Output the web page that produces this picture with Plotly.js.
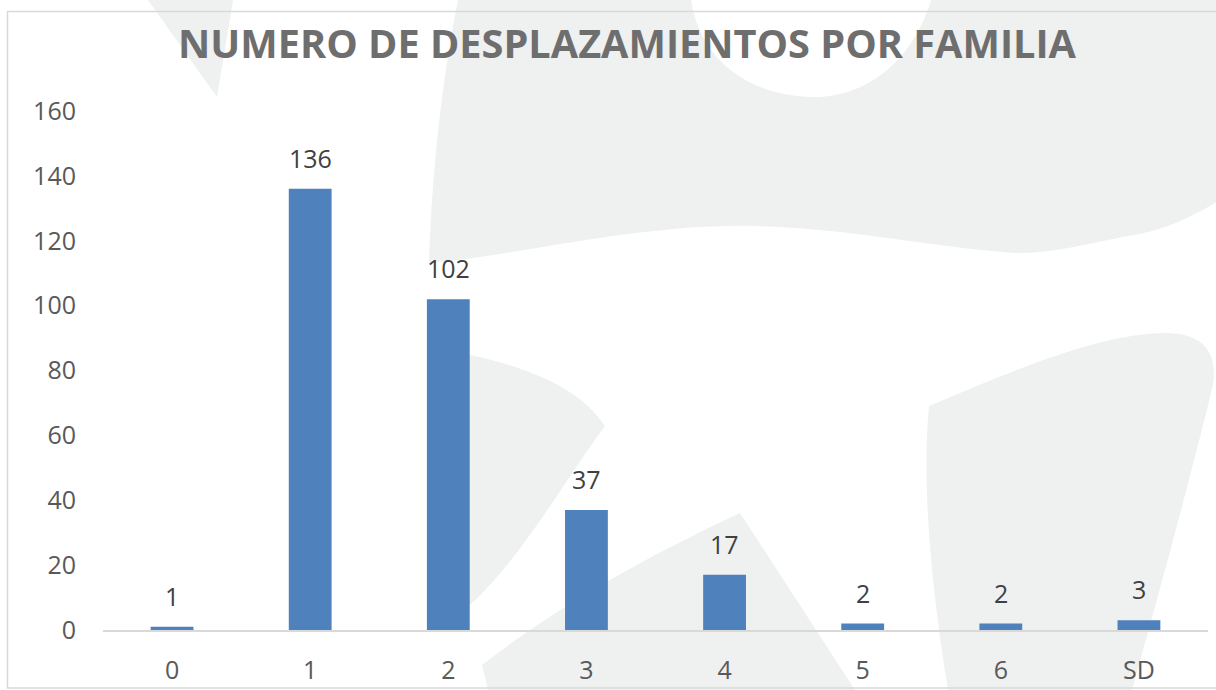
<!DOCTYPE html>
<html>
<head>
<meta charset="utf-8">
<script src="https://cdn.plot.ly/plotly-3.0.1.min.js"></script>
<style>
  html, body { margin: 0; padding: 0; background: #ffffff; }
  #chart { width: 1216px; height: 690px; }
</style>
</head>
<body>
<div id="chart"></div>
<script>
// ---- data ----
const categories = ["0", "1", "2", "3", "4", "5", "6", "SD"];
const familias = [1, 136, 102, 37, 17, 2, 2, 3];
const chartTitle = "NUMERO DE DESPLAZAMIENTOS POR FAMILIA";

// ---- layout geometry (pixels) ----
const W = 1216, H = 690;
const M = { l: 103, r: 8, t: 111, b: 60 };
const PW = W - M.l - M.r, PH = H - M.t - M.b;
const px = x => ((x - M.l) / PW).toFixed(5);
const py = y => ((M.t + PH - y) / PH).toFixed(5);
function path(cmds) {
  return cmds.map(c => {
    const L = c[0];
    if (L === 'Z') return 'Z';
    const pts = [];
    for (let i = 1; i < c.length; i += 2) pts.push(px(c[i]) + ',' + py(c[i + 1]));
    return L + pts.join(' ');
  }).join(' ');
}
const wm = '#eff0f0';
const deco = [
  [['M',148,0],['L',233,0],['L',217,97],['Z']],
  [['M',458,0],['L',691,0],['C',700,60,750,97,814,97],['C',872,97,915,55,931,0],['L',1217,0],['L',1217,202],
   ['C',1190,218,1160,232,1128,236],['C',1085,244,1050,254,1014,253],['C',920,246,830,224,728,226],
   ['C',620,228,520,255,429,263],['C',432,170,442,80,458,0],['Z']],
  [['M',455,352],['L',470,355],['C',530,368,580,388,605,426],['C',565,480,520,560,470,605],['L',455,605],['Z']],
  [['M',488,690],['L',482,665],['C',560,605,640,560,740,513],['L',855,690],['Z']],
  [['M',929,406],['C',1010,372,1100,333,1165,333],['C',1203,333,1218,352,1213,385],['C',1195,460,1160,590,1132,690],
   ['L',948,690],['C',930,580,922,480,929,406],['Z']]
];
const shapes = deco.map(d => ({
  type: 'path', xref: 'paper', yref: 'paper', layer: 'below',
  path: path(d), fillcolor: wm, line: { width: 0 }
}));
shapes.push({
  type: 'rect', xref: 'paper', yref: 'paper', layer: 'below',
  x0: px(7.5), x1: px(1218), y0: py(688), y1: py(11.5),
  line: { color: '#d9d9d9', width: 1.5 }, fillcolor: 'rgba(0,0,0,0)'
});

const annotations = categories.map((c, i) => ({
  x: c, y: familias[i], xref: 'x', yref: 'y',
  text: String(familias[i]), showarrow: false,
  yanchor: 'middle', yshift: 31,
  font: { family: 'Open Sans', size: 25, color: '#404040' }
}));

const trace = {
  type: 'bar',
  x: categories,
  y: familias,
  marker: { color: '#4f81bd', line: { width: 0 } },
  hoverinfo: 'x+y'
};

const layout = {
  width: W, height: H,
  margin: M,
  paper_bgcolor: '#ffffff',
  plot_bgcolor: 'rgba(0,0,0,0)',
  font: { family: 'Open Sans', color: '#595959' },
  title: {
    text: chartTitle,
    xref: 'container', yref: 'container',
    x: 627 / W, xanchor: 'center',
    y: 1 - 44 / H, yanchor: 'middle',
    font: { family: 'Open Sans', size: 39.7, weight: 'bold', color: '#6e6e6e' }
  },
  bargap: 0.69,
  showlegend: false,
  xaxis: {
    type: 'category',
    range: [-0.5, 7.5],
    showline: true, linecolor: '#d9d9d9', linewidth: 1.5,
    showgrid: false, zeroline: false, ticks: '',
    tickfont: { family: 'Open Sans', size: 25, color: '#595959' },
    ticklabelstandoff: 17
  },
  yaxis: {
    range: [0, 160], dtick: 20, tick0: 0,
    showline: false, showgrid: false, zeroline: false, ticks: '',
    tickfont: { family: 'Open Sans', size: 25, color: '#595959' },
    ticklabelstandoff: 26
  },
  shapes: shapes,
  annotations: annotations
};

Plotly.newPlot('chart', [trace], layout, { displayModeBar: false, staticPlot: true });
</script>
</body>
</html>
